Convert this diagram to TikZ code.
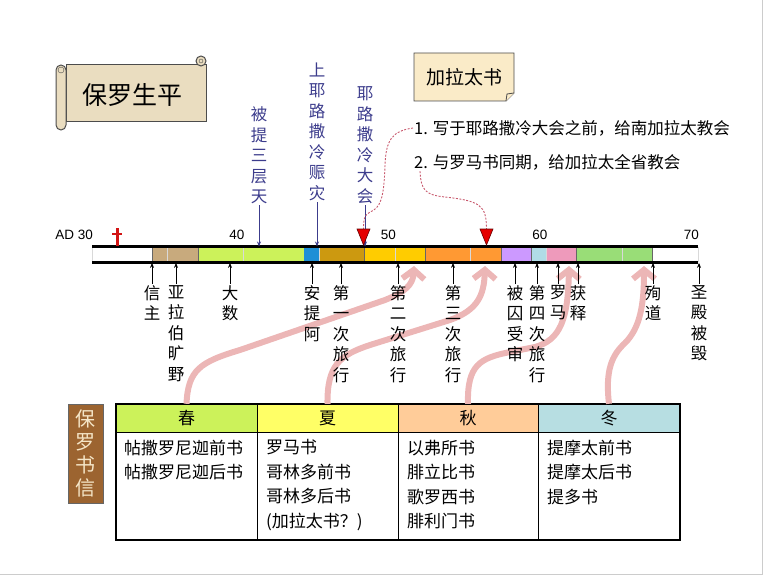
\documentclass[tikz,border=0pt]{standalone}
\usepackage{fontspec}
\setmainfont{Liberation Sans}
\newfontfamily\cjk{Noto Sans CJK SC}
\usetikzlibrary{arrows.meta,positioning}
\definecolor{labelblue}{RGB}{60,60,140}
\definecolor{crossred}{RGB}{210,20,20}
\definecolor{seasonpink}{RGB}{236,182,182}
\definecolor{hintred}{RGB}{200,90,110}
\definecolor{parch}{RGB}{234,221,192}
\definecolor{notefill}{RGB}{250,235,200}
\definecolor{segtan}{RGB}{200,170,125}
\definecolor{seglime}{RGB}{204,242,90}
\definecolor{segblue}{RGB}{30,143,214}
\definecolor{seggold}{RGB}{204,153,16}
\definecolor{segyellow}{RGB}{255,204,0}
\definecolor{segorange}{RGB}{255,153,51}
\definecolor{seglilac}{RGB}{204,153,255}
\definecolor{segsky}{RGB}{176,220,230}
\definecolor{segpink}{RGB}{238,154,187}
\definecolor{seggreen}{RGB}{153,221,119}
\definecolor{hdrspring}{RGB}{204,242,90}
\definecolor{hdrsummer}{RGB}{255,255,102}
\definecolor{hdrautumn}{RGB}{255,204,153}
\definecolor{hdrwinter}{RGB}{183,222,226}
\definecolor{letterbrown}{RGB}{156,100,48}
\definecolor{lettertext}{RGB}{245,230,200}
\tikzset{
  vlabel/.style={font=\cjk\fontsize{16.5}{20.5}\selectfont, align=center, inner sep=1pt},
  toplabel/.style={vlabel, text=labelblue, anchor=south},
  botlabel/.style={vlabel, anchor=north},
  yearlabel/.style={font=\fontsize{13.5}{16}\selectfont, anchor=base east, inner sep=0pt},
  upptr/.style={-{Stealth[length=5pt,width=4pt]}, line width=0.7pt},
  downptr/.style={-{Stealth[length=5pt,width=4pt]}, line width=0.7pt, labelblue},
  seasonptr/.style={seasonpink, line width=6pt, -{Straight Barb[length=9pt,width=22pt]}},
  hint/.style={hintred, line width=0.9pt, dash pattern=on 2pt off 1.5pt},
  redtri/.style={fill=red!90!black, draw=red!40!black, line width=0.6pt},
  seasoncell/.style={minimum width=141pt, minimum height=28pt, inner sep=0pt, font=\cjk\fontsize{17}{20}\selectfont},
  booklist/.style={anchor=north west, align=left, inner sep=0pt, font=\cjk\fontsize{17}{24.5}\selectfont},
  notetext/.style={anchor=west, inner sep=1pt, font=\cjk\fontsize{16.5}{20}\selectfont},
  scrolledge/.style={draw=black!70, fill=parch, line width=1pt},
  notebox/.style={draw=black!70, fill=notefill, line width=0.8pt}
}
\begin{document}
\begin{tikzpicture}[x=1pt,y=-1pt]
  \useasboundingbox (0,0) rectangle (763,575);
  \draw[black!20] (762,0) -- (762,574) -- (0,574);

  \draw[scrolledge] (66,65) rectangle (206,122);
  \draw[scrolledge] (201,61) circle[radius=5];
  \draw[black!70] (201,61) circle[radius=2];
  \draw[scrolledge, rounded corners=5pt] (56,65) rectangle (66,130);
  \draw[black!70] (61,70) circle[radius=3];
  \node[font=\cjk\fontsize{25}{28}\selectfont] (title) at (132,95) {保罗生平};

  \draw[notebox] (414,53) -- (514,53) -- (514,93) -- (506,101) -- (414,101) -- cycle;
  \draw[notebox] (514,93) -- (507,94) -- (506,101);
  \node[font=\cjk\fontsize{19}{22}\selectfont] (galtitle) at (464,77) {加拉太书};
  \node[notetext] (note1) at (413,128) {1. 写于耶路撒冷大会之前，给南加拉太教会};
  \node[notetext] (note2) at (413,162) {2. 与罗马书同期，给加拉太全省教会};

  \node[seasoncell, fill=hdrspring] (chun) at (186.5,418) {春};
  \node[seasoncell, fill=hdrsummer] (xia) at (327.5,418) {夏};
  \node[seasoncell, fill=hdrautumn] (qiu) at (468,418) {秋};
  \node[seasoncell, fill=hdrwinter] (dong) at (609,418) {冬};
  \node[booklist] (chunbk) at (124,439.5) {帖撒罗尼迦前书\\帖撒罗尼迦后书};
  \node[booklist] (xiabk) at (266,439.5) {罗马书\\哥林多前书\\哥林多后书\\(加拉太书？)};
  \node[booklist] (qiubk) at (407,439.5) {以弗所书\\腓立比书\\歌罗西书\\腓利门书};
  \node[booklist] (dongbk) at (547,439.5) {提摩太前书\\提摩太后书\\提多书};
  \draw[line width=0.8pt] (116,432) -- (680,432);
  \foreach \x in {257,398,538}
    \draw[line width=0.8pt] (\x,404) -- (\x,540);
  \draw[line width=2.5pt] (116,404) rectangle (680,540);
  \node[fill=letterbrown, draw=black!60, text=lettertext, minimum width=35pt, minimum height=99pt, inner sep=0pt, align=center, font=\cjk\fontsize{20}{23}\selectfont] (letters) at (85.5,453.5) {保\\罗\\书\\信};

  \coordinate (tipA) at (414,266);
  \coordinate (tipB) at (485,266);
  \coordinate (tipC) at (569,266);
  \coordinate (tipD) at (644,266);
  \draw[seasonptr] (chun.north) .. controls (188,370) and (200,362) .. (240,350) -- (385,300) .. controls (405,292) and (413,285) .. (tipA);
  \draw[seasonptr] (xia.north) .. controls (327,365) and (340,355) .. (370,345) -- (450,320) .. controls (478,310) and (484,295) .. (tipB);
  \draw[seasonptr] (qiu.north) .. controls (467,365) and (480,358) .. (510,352) -- (535,347) .. controls (560,340) and (568,320) .. (tipC);
  \draw[seasonptr] (dong.north) .. controls (605,370) and (612,355) .. (625,343) .. controls (640,328) and (644,305) .. (tipD);

  \node[minimum width=606pt, minimum height=16pt, inner sep=0pt, anchor=north west] (bar) at (92,246.5) {};
  \foreach \a/\b/\c in {30/34/white,34/37/segtan,37/44/seglime,44/45/segblue,45/48/seggold,48/52/segyellow,52/57/segorange,57/59/seglilac,59/60/segsky,60/62/segpink,62/67/seggreen,67/70/white}
    \fill[\c] ({92+(\a-30)*15.15},246.5) rectangle ({92+(\b-30)*15.15},262.5);
  \foreach \a in {30,35,...,70}
    \draw[black!15, line width=0.8pt] ({92+(\a-30)*15.15},247) -- ({92+(\a-30)*15.15},262);
  \foreach \a in {34,37,48,52,57,59,62,67}
    \draw[black!60, line width=0.8pt] ({92+(\a-30)*15.15},247) -- ({92+(\a-30)*15.15},262);
  \draw[line width=3pt] (bar.north west) -- (bar.north east);
  \draw[line width=3pt] (bar.south west) -- (bar.south east);

  \foreach \y/\t in {30/AD 30,40/40,50/50,60/60,70/70}
    \node[yearlabel] (yr\y) at ({93+(\y-30)*15.15},239) {\t};
  \draw[crossred, line width=3pt] (117,228) -- (117,246);
  \draw[crossred, line width=2.5pt] (112,234) -- (122,234);

  \node[toplabel] (tisan) at (259,205) {被\\提\\三\\层\\天};
  \node[toplabel] (zhenzai) at (317,202) {上\\耶\\路\\撒\\冷\\赈\\灾};
  \node[toplabel] (dahui) at (365,205) {耶\\路\\撒\\冷\\大\\会};
  \draw[downptr] (tisan.south) -- (tisan.south |- bar.north);
  \draw[downptr] (zhenzai.south) -- (zhenzai.south |- bar.north);
  \draw[downptr] (dahui.south) -- (dahui.south |- bar.north);

  \coordinate (triA) at (363.5,229);
  \coordinate (triB) at (486.5,229);
  \draw[hint] (note1.west) .. controls (392,131) and (386,140) .. (385,165) .. controls (384,200) and (380,208) .. (370,212) .. controls (364,215) and (363.5,220) .. (triA);
  \draw[hint] ([xshift=7pt]note2.south west) .. controls (421,190) and (425,195) .. (445,197) .. controls (480,201) and (486.5,205) .. (triB);
  \filldraw[redtri] ([xshift=-6.5pt]triA) -- ([xshift=6.5pt]triA) -- ([yshift=-16pt]triA) -- cycle;
  \filldraw[redtri] ([xshift=-6.5pt]triB) -- ([xshift=6.5pt]triB) -- ([yshift=-16pt]triB) -- cycle;

  \foreach \x/\nm/\t in {152/xinzhu/{信\\主},176/yalabo/{亚\\拉\\伯\\旷\\野},230/dashu/{大\\数},312/antiochia/{安\\提\\阿},341/tripone/{第\\一\\次\\旅\\行},398/triptwo/{第\\二\\次\\旅\\行},453/tripthree/{第\\三\\次\\旅\\行},515/trial/{被\\囚\\受\\审},537/tripfour/{第\\四\\次\\旅\\行},558/roma/{罗\\马},578/freed/{获\\释},653/martyr/{殉\\道},699/temple/{圣\\殿\\被\\毁}} {
    \node[botlabel] (\nm) at (\x,284) {\t};
    \draw[upptr] (\nm.north) -- (\nm.north |- bar.south);
  }
\end{tikzpicture}
\end{document}
